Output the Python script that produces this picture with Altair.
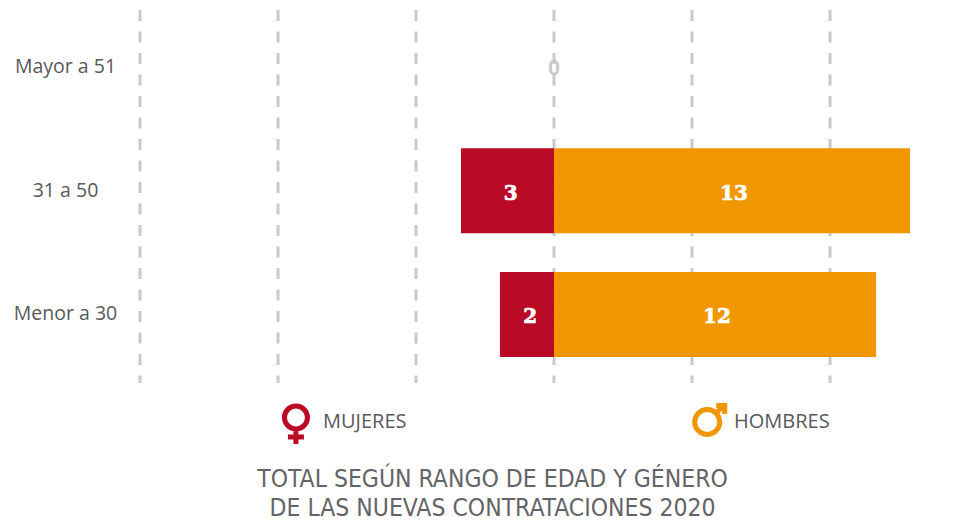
import altair as alt
import pandas as pd

categories = ["Mayor a 51", "31 a 50", "Menor a 30"]
# Bar lengths (the printed labels are rounded differently)
mujeres_len = [0, 3.37, 1.96]
hombres_len = [0, 12.9, 11.67]
mujeres_lab = ["", "3", "2"]
hombres_lab = ["", "13", "12"]
grid_values = [-15, -10, -5, 0, 5, 10]
RED, ORANGE, GREY, LIGHT = "#b90b25", "#f09700", "#58595b", "#c8c9cd"

rows = []
for c, m, h, ml, hl in zip(categories, mujeres_len, hombres_len, mujeres_lab, hombres_lab):
    rows.append(dict(cat=c, gen="Mujeres", v=-m, lab=ml))
    rows.append(dict(cat=c, gen="Hombres", v=h, lab=hl))
df = pd.DataFrame(rows)
bars_df = df[df.v != 0]

x = alt.X("v:Q", scale=alt.Scale(domain=[-15, 14.6], nice=False, zero=False), axis=None)
y = alt.Y("cat:N", sort=categories, title=None,
          scale=alt.Scale(domain=categories, range=[0, 365.5], paddingInner=0.312, paddingOuter=0.134),
          axis=alt.Axis(domain=False, ticks=False, labelAlign="center", labelPadding=75,
                        labelFont="Open Sans", labelFontSize=19.5, labelColor=GREY, labelFontWeight=400))

grid = alt.Chart(pd.DataFrame({"v": grid_values})).mark_rule(
    color=LIGHT, strokeWidth=3, strokeDash=[11, 10.5]
).encode(x=x, y=alt.value(2), y2=alt.value(375))

bars = alt.Chart(bars_df).mark_bar(size=85).encode(
    x=x, x2=alt.X2(datum=0), y=y,
    color=alt.Color("gen:N", scale=alt.Scale(domain=["Mujeres", "Hombres"], range=[RED, ORANGE]), legend=None),
)

labels = alt.Chart(bars_df).transform_calculate(mid="datum.v / 2 + (datum.v < 0 ? 0.12 : 0.07)").mark_text(
    font="DejaVu Serif", fontWeight="bold", fontSize=20, color="white", stroke="white", strokeWidth=0.7,
    baseline="middle", dy=3
).encode(x=alt.X("mid:Q", scale=alt.Scale(domain=[-15, 14.6], nice=False, zero=False), axis=None), y=y, text="lab:N")

zero = alt.Chart(pd.DataFrame({"cat": ["Mayor a 51"], "v": [0], "lab": ["0"]})).mark_text(
    font="Roboto", fontWeight="bold", fontSize=21, color=LIGHT, baseline="middle", dy=2
).encode(x=x, y=y, text="lab:N")

legend_text = alt.Chart(pd.DataFrame({"v": [-8.37, 6.52], "t": ["MUJERES", "HOMBRES"]})).mark_text(
    font="Open Sans", fontSize=20, color=GREY, align="left", baseline="middle"
).encode(x=x, y=alt.value(414), text="t:N")

VENUS = "M11.5 -6.5A11.5 11.5 0 1 0 -11.5 -6.5A11.5 11.5 0 1 0 11.5 -6.5M0 5V20M-8 13H8"
MARS = "M12.5 0A12.5 12.5 0 1 0 -12.5 0A12.5 12.5 0 1 0 12.5 0M9 -9L17 -17M9 -16.5H17.5V-8"
venus = alt.Chart(pd.DataFrame({"v": [-9.35]})).mark_point(
    shape=VENUS, size=4, stroke=RED, strokeWidth=5, fill=None, filled=False, opacity=1
).encode(x=x, y=alt.value(416))
mars = alt.Chart(pd.DataFrame({"v": [5.55]})).mark_point(
    shape=MARS, size=4, stroke=ORANGE, strokeWidth=5, fill=None, filled=False, opacity=1
).encode(x=x, y=alt.value(414))

chart = alt.layer(grid, bars, labels, zero, legend_text, venus, mars).properties(
    width=817, height=375,
    autosize=alt.AutoSizeParams(type="none"),
    padding={"left": 132, "top": 0, "right": 0, "bottom": 139},
    title=alt.TitleParams(
        text=["TOTAL SEGÚN RANGO DE EDAD Y GÉNERO", "DE LAS NUEVAS CONTRATACIONES 2020"],
        orient="bottom", anchor="middle", dx=-56, offset=14, lineHeight=29,
        font="DejaVu Sans Condensed", fontSize=24.5, fontWeight="normal", color="#636466",
    ),
).configure_view(stroke=None)

chart.save("out.html", embed_options={"renderer": "svg", "actions": False})
